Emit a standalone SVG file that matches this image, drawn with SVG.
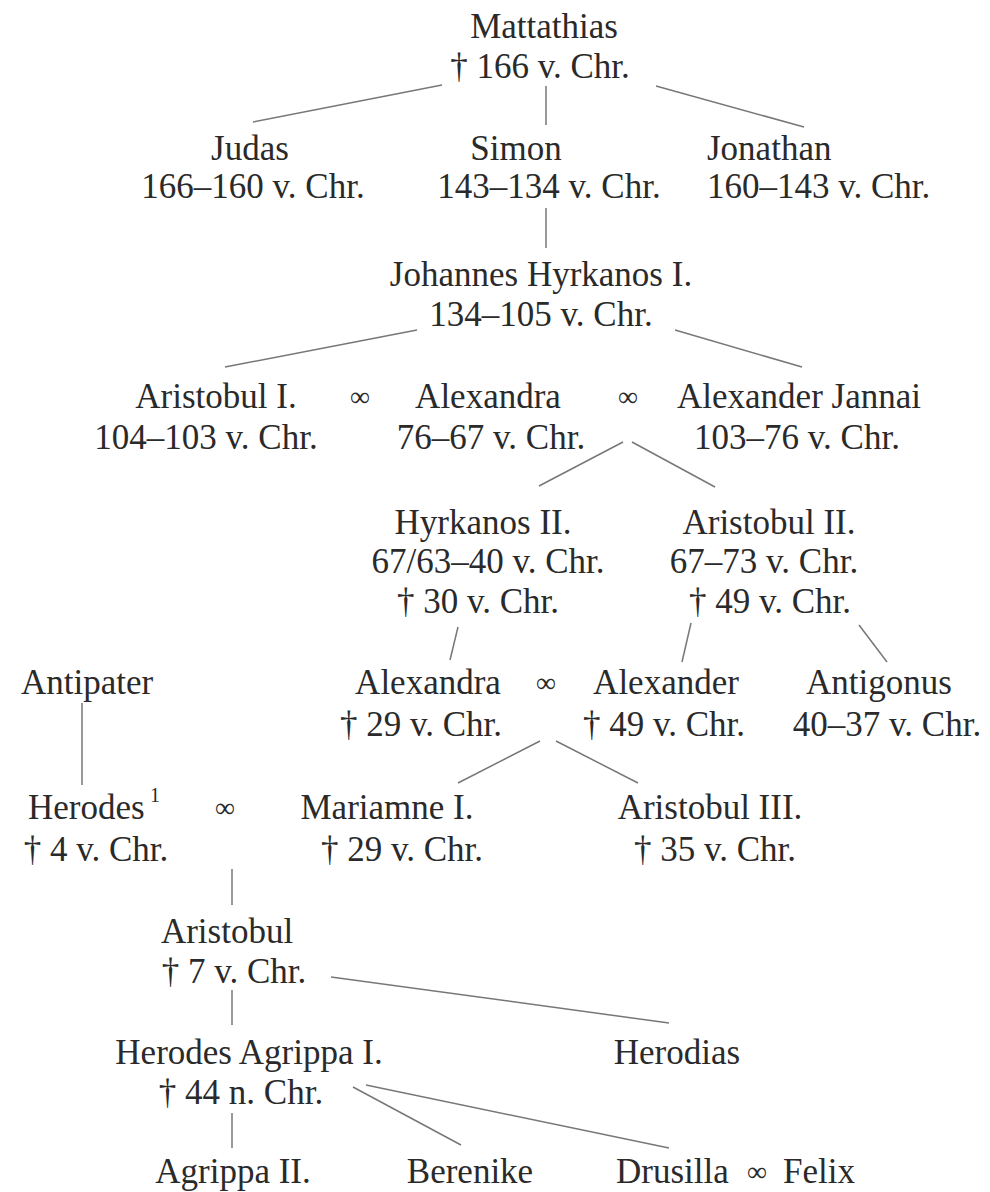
<svg xmlns="http://www.w3.org/2000/svg" width="990" height="1192" viewBox="0 0 990 1192">
<style>
text{font-family:"Liberation Serif","Times New Roman",serif;font-size:35px;fill:#2a2a2a;text-anchor:middle}
.s{text-anchor:start}
.sup{font-size:20px;text-anchor:start}
.m{font-size:28px}
.c line{stroke:#777;stroke-width:1.5}
</style>
<rect width="990" height="1192" fill="#fff"/>
<g class="c" id="connectors">
<line x1="442" y1="85" x2="253" y2="122"/>
<line x1="546" y1="86" x2="546" y2="125"/>
<line x1="656" y1="86" x2="804" y2="127"/>
<line x1="546" y1="208" x2="546" y2="248"/>
<line x1="417" y1="330" x2="225" y2="367"/>
<line x1="675" y1="330" x2="802" y2="367"/>
<line x1="623" y1="442" x2="539" y2="486"/>
<line x1="632" y1="442" x2="715" y2="487"/>
<line x1="458" y1="627" x2="450" y2="660"/>
<line x1="691" y1="623" x2="682" y2="662"/>
<line x1="859" y1="625" x2="887" y2="662"/>
<line x1="540" y1="741" x2="458" y2="783"/>
<line x1="556" y1="741" x2="638" y2="783"/>
<line x1="82" y1="703" x2="82" y2="785"/>
<line x1="232" y1="869" x2="232" y2="905"/>
<line x1="232" y1="990" x2="232" y2="1025"/>
<line x1="331" y1="977" x2="669" y2="1023"/>
<line x1="232" y1="1113" x2="232" y2="1148"/>
<line x1="353" y1="1087" x2="461" y2="1145"/>
<line x1="366" y1="1085" x2="669" y2="1148"/>
</g>
<g id="mattathias"><text x="544" y="38">Mattathias</text><text x="540" y="78">† 166 v. Chr.</text></g>
<g id="judas"><text x="250" y="160">Judas</text><text x="253" y="198">166–160 v. Chr.</text></g>
<g id="simon"><text x="516" y="160">Simon</text><text x="549" y="198">143–134 v. Chr.</text></g>
<g id="jonathan"><text class="s" x="707" y="160">Jonathan</text><text class="s" x="707" y="198">160–143 v. Chr.</text></g>
<g id="johannes"><text x="541" y="286">Johannes Hyrkanos I.</text><text x="541" y="326">134–105 v. Chr.</text></g>
<g id="aristobul1"><text x="216" y="408">Aristobul I.</text><text x="206" y="449">104–103 v. Chr.</text></g>
<g id="m1"><text class="m" x="360" y="406">∞</text></g>
<g id="alexandra1"><text x="488" y="408">Alexandra</text><text x="491" y="449">76–67 v. Chr.</text></g>
<g id="m2"><text class="m" x="628" y="406">∞</text></g>
<g id="jannai"><text x="799" y="408">Alexander Jannai</text><text x="797" y="449">103–76 v. Chr.</text></g>
<g id="hyrkanos2"><text x="483" y="534">Hyrkanos II.</text><text x="488" y="573">67/63–40 v. Chr.</text><text x="478" y="613">† 30 v. Chr.</text></g>
<g id="aristobul2"><text x="769" y="534">Aristobul II.</text><text x="764" y="573">67–73 v. Chr.</text><text x="770" y="613">† 49 v. Chr.</text></g>
<g id="antipater"><text x="87" y="694">Antipater</text></g>
<g id="alexandra2"><text x="428" y="694">Alexandra</text><text x="421" y="736">† 29 v. Chr.</text></g>
<g id="m3"><text class="m" x="546" y="692">∞</text></g>
<g id="alexander"><text x="666" y="694">Alexander</text><text x="664" y="736">† 49 v. Chr.</text></g>
<g id="antigonus"><text x="879" y="694">Antigonus</text><text x="887" y="736">40–37 v. Chr.</text></g>
<g id="herodes"><text class="s" x="28" y="819">Herodes</text><text class="sup" x="150" y="802">1</text><text x="96" y="861">† 4 v. Chr.</text></g>
<g id="m4"><text class="m" x="225" y="817">∞</text></g>
<g id="mariamne"><text x="387" y="819">Mariamne I.</text><text x="402" y="861">† 29 v. Chr.</text></g>
<g id="aristobul3"><text x="710" y="819">Aristobul III.</text><text x="715" y="861">† 35 v. Chr.</text></g>
<g id="aristobul"><text x="227" y="943">Aristobul</text><text x="234" y="983">† 7 v. Chr.</text></g>
<g id="agrippa1"><text x="249" y="1064">Herodes Agrippa I.</text><text x="241" y="1104">† 44 n. Chr.</text></g>
<g id="herodias"><text x="677" y="1064">Herodias</text></g>
<g id="agrippa2"><text x="233" y="1183">Agrippa II.</text></g>
<g id="berenike"><text x="470" y="1183">Berenike</text></g>
<g id="drusilla"><text class="s" x="616" y="1183">Drusilla</text><text class="m" x="757" y="1181">∞</text><text class="s" x="783" y="1183">Felix</text></g>
</svg>
